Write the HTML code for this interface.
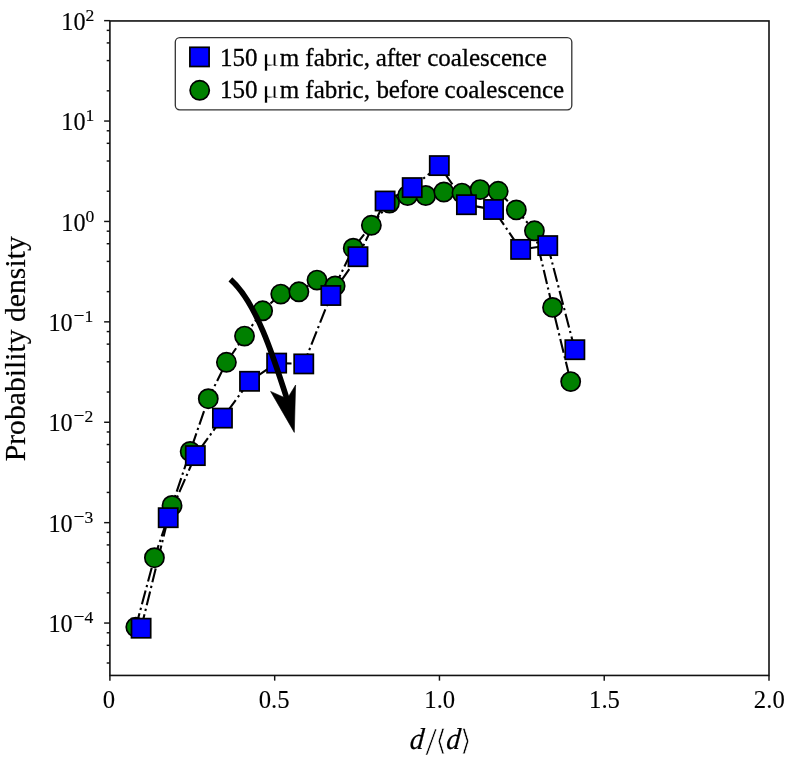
<!DOCTYPE html>
<html lang="en"><head><meta charset="utf-8"><title>Probability density vs d/&#x27E8;d&#x27E9;</title>
<style>
html,body{margin:0;padding:0;background:#fff;}
body{width:785px;height:757px;overflow:hidden;}
svg{display:block;}
text{font-family:"Liberation Serif", "DejaVu Serif", serif;fill:#000;stroke:#000;stroke-width:0.15px;}
.tk{font-size:24.7px;stroke-width:0.1px;}
.sup{font-size:17.6px;}
.lab{font-size:29.7px;stroke-width:0.2px;}
.ytk{font-size:24.2px;}
.leg{font-size:25.05px;stroke-width:0.3px;}
</style></head><body>
<svg width="785" height="757" viewBox="0 0 785 757">
<rect x="0" y="0" width="785" height="757" fill="#ffffff"/>
<g stroke="#111" stroke-width="1.45" fill="none">
<line x1="104.10" y1="623.05" x2="109.90" y2="623.05"/>
<line x1="104.10" y1="522.65" x2="109.90" y2="522.65"/>
<line x1="104.10" y1="422.25" x2="109.90" y2="422.25"/>
<line x1="104.10" y1="321.85" x2="109.90" y2="321.85"/>
<line x1="104.10" y1="221.45" x2="109.90" y2="221.45"/>
<line x1="104.10" y1="121.05" x2="109.90" y2="121.05"/>
<line x1="104.10" y1="20.65" x2="109.90" y2="20.65"/>
<line x1="106.70" y1="663.00" x2="109.90" y2="663.00"/>
<line x1="106.70" y1="645.32" x2="109.90" y2="645.32"/>
<line x1="106.70" y1="632.78" x2="109.90" y2="632.78"/>
<line x1="106.70" y1="592.83" x2="109.90" y2="592.83"/>
<line x1="106.70" y1="562.60" x2="109.90" y2="562.60"/>
<line x1="106.70" y1="544.92" x2="109.90" y2="544.92"/>
<line x1="106.70" y1="532.38" x2="109.90" y2="532.38"/>
<line x1="106.70" y1="492.43" x2="109.90" y2="492.43"/>
<line x1="106.70" y1="462.20" x2="109.90" y2="462.20"/>
<line x1="106.70" y1="444.52" x2="109.90" y2="444.52"/>
<line x1="106.70" y1="431.98" x2="109.90" y2="431.98"/>
<line x1="106.70" y1="392.03" x2="109.90" y2="392.03"/>
<line x1="106.70" y1="361.80" x2="109.90" y2="361.80"/>
<line x1="106.70" y1="344.12" x2="109.90" y2="344.12"/>
<line x1="106.70" y1="331.58" x2="109.90" y2="331.58"/>
<line x1="106.70" y1="291.63" x2="109.90" y2="291.63"/>
<line x1="106.70" y1="261.40" x2="109.90" y2="261.40"/>
<line x1="106.70" y1="243.72" x2="109.90" y2="243.72"/>
<line x1="106.70" y1="231.18" x2="109.90" y2="231.18"/>
<line x1="106.70" y1="191.23" x2="109.90" y2="191.23"/>
<line x1="106.70" y1="161.00" x2="109.90" y2="161.00"/>
<line x1="106.70" y1="143.32" x2="109.90" y2="143.32"/>
<line x1="106.70" y1="130.78" x2="109.90" y2="130.78"/>
<line x1="106.70" y1="90.83" x2="109.90" y2="90.83"/>
<line x1="106.70" y1="60.60" x2="109.90" y2="60.60"/>
<line x1="106.70" y1="42.92" x2="109.90" y2="42.92"/>
<line x1="106.70" y1="30.38" x2="109.90" y2="30.38"/>
<line x1="109.90" y1="675.45" x2="109.90" y2="680.65"/>
<line x1="274.68" y1="675.45" x2="274.68" y2="680.65"/>
<line x1="439.45" y1="675.45" x2="439.45" y2="680.65"/>
<line x1="604.23" y1="675.45" x2="604.23" y2="680.65"/>
<line x1="769.00" y1="675.45" x2="769.00" y2="680.65"/>
</g>
<rect x="109.90" y="20.95" width="659.10" height="654.50" fill="none" stroke="#111" stroke-width="1.6"/>
<text class="ytk" x="72.7" y="632.25" text-anchor="end">10</text>
<text class="sup" x="93.4" y="623.25" text-anchor="end"><tspan style="font-size:19.6px">−</tspan>4</text>
<text class="ytk" x="72.7" y="531.85" text-anchor="end">10</text>
<text class="sup" x="93.4" y="522.85" text-anchor="end"><tspan style="font-size:19.6px">−</tspan>3</text>
<text class="ytk" x="72.7" y="431.45" text-anchor="end">10</text>
<text class="sup" x="93.4" y="422.45" text-anchor="end"><tspan style="font-size:19.6px">−</tspan>2</text>
<text class="ytk" x="72.7" y="331.05" text-anchor="end">10</text>
<text class="sup" x="93.4" y="322.05" text-anchor="end"><tspan style="font-size:19.6px">−</tspan>1</text>
<text class="ytk" x="85.5" y="230.65" text-anchor="end">10</text>
<text class="sup" x="94.2" y="221.65" text-anchor="end">0</text>
<text class="ytk" x="85.5" y="130.25" text-anchor="end">10</text>
<text class="sup" x="94.2" y="121.25" text-anchor="end">1</text>
<text class="ytk" x="85.5" y="29.85" text-anchor="end">10</text>
<text class="sup" x="94.2" y="20.85" text-anchor="end">2</text>
<text class="tk" x="109.00" y="707.6" text-anchor="middle">0</text>
<text class="tk" x="274.07" y="707.6" text-anchor="middle">0.5</text>
<text class="tk" x="439.75" y="707.6" text-anchor="middle">1.0</text>
<text class="tk" x="604.52" y="707.6" text-anchor="middle">1.5</text>
<text class="tk" x="769.30" y="707.6" text-anchor="middle">2.0</text>
<text class="lab" transform="translate(25.1 348.8) rotate(-90)" text-anchor="middle">Probability density</text>
<g id="xlabel">
<text class="lab" transform="translate(409.3 748.6) skewX(-5) scale(0.95 1.02)" font-style="italic">d</text>
<text x="425.6" y="754.7" style="font-size:40.8px;stroke:#fff;stroke-width:0.5px">/</text>
<text x="435.4" y="749.7" style="font-family:'DejaVu Sans',sans-serif;font-size:28.6px;stroke:#fff;stroke-width:0.7px">⟨</text>
<text class="lab" transform="translate(445.8 748.6) skewX(-5) scale(0.95 1.02)" font-style="italic">d</text>
<text x="460.2" y="749.7" style="font-family:'DejaVu Sans',sans-serif;font-size:28.6px;stroke:#fff;stroke-width:0.7px">⟩</text>
</g>
<g id="lines" fill="none" stroke="#000" stroke-width="2.10" stroke-dasharray="14.25 3.56 2.23 3.56" stroke-linejoin="round">
<polyline points="135.80,627.10 154.42,557.70 172.04,505.50 190.16,451.50 208.28,398.70 226.40,362.30 244.52,336.10 262.64,310.80 280.76,294.10 298.88,291.80 317.00,280.10 335.12,285.90 353.24,248.20 371.36,225.30 389.48,203.00 407.60,195.50 425.72,195.50 443.84,192.00 461.96,193.10 480.08,189.60 498.20,191.30 516.32,209.90 534.44,230.80 552.56,307.40 570.68,381.60"/>
<polyline points="141.10,628.20 168.21,517.70 195.32,455.60 222.43,418.10 249.54,381.30 276.65,363.10 303.76,363.90 330.87,295.50 357.98,256.70 385.09,201.00 412.20,187.60 439.31,165.60 466.42,204.70 493.53,209.50 520.64,249.40 547.75,245.60 574.86,349.70"/>
</g>
<g id="before" fill="#008000" stroke="#000" stroke-width="1.70">
<circle cx="135.80" cy="627.10" r="9.60"/>
<circle cx="154.42" cy="557.70" r="9.60"/>
<circle cx="172.04" cy="505.50" r="9.60"/>
<circle cx="190.16" cy="451.50" r="9.60"/>
<circle cx="208.28" cy="398.70" r="9.60"/>
<circle cx="226.40" cy="362.30" r="9.60"/>
<circle cx="244.52" cy="336.10" r="9.60"/>
<circle cx="262.64" cy="310.80" r="9.60"/>
<circle cx="280.76" cy="294.10" r="9.60"/>
<circle cx="298.88" cy="291.80" r="9.60"/>
<circle cx="317.00" cy="280.10" r="9.60"/>
<circle cx="335.12" cy="285.90" r="9.60"/>
<circle cx="353.24" cy="248.20" r="9.60"/>
<circle cx="371.36" cy="225.30" r="9.60"/>
<circle cx="389.48" cy="203.00" r="9.60"/>
<circle cx="407.60" cy="195.50" r="9.60"/>
<circle cx="425.72" cy="195.50" r="9.60"/>
<circle cx="443.84" cy="192.00" r="9.60"/>
<circle cx="461.96" cy="193.10" r="9.60"/>
<circle cx="480.08" cy="189.60" r="9.60"/>
<circle cx="498.20" cy="191.30" r="9.60"/>
<circle cx="516.32" cy="209.90" r="9.60"/>
<circle cx="534.44" cy="230.80" r="9.60"/>
<circle cx="552.56" cy="307.40" r="9.60"/>
<circle cx="570.68" cy="381.60" r="9.60"/>
</g>
<g id="after" fill="#0000ff" stroke="#000" stroke-width="1.70">
<rect x="131.50" y="618.60" width="19.20" height="19.20"/>
<rect x="158.61" y="508.10" width="19.20" height="19.20"/>
<rect x="185.72" y="446.00" width="19.20" height="19.20"/>
<rect x="212.83" y="408.50" width="19.20" height="19.20"/>
<rect x="239.94" y="371.70" width="19.20" height="19.20"/>
<rect x="267.05" y="353.50" width="19.20" height="19.20"/>
<rect x="294.16" y="354.30" width="19.20" height="19.20"/>
<rect x="321.27" y="285.90" width="19.20" height="19.20"/>
<rect x="348.38" y="247.10" width="19.20" height="19.20"/>
<rect x="375.49" y="191.40" width="19.20" height="19.20"/>
<rect x="402.60" y="178.00" width="19.20" height="19.20"/>
<rect x="429.71" y="156.00" width="19.20" height="19.20"/>
<rect x="456.82" y="195.10" width="19.20" height="19.20"/>
<rect x="483.93" y="199.90" width="19.20" height="19.20"/>
<rect x="511.04" y="239.80" width="19.20" height="19.20"/>
<rect x="538.15" y="236.00" width="19.20" height="19.20"/>
<rect x="565.26" y="340.10" width="19.20" height="19.20"/>
</g>
<g id="arrow">
<path d="M230.4 279.4 C255.9 301.9 272.8 354.4 287.3 400" fill="none" stroke="#000" stroke-width="5.7"/>
<path d="M294.3 432.4 L270.6 391.4 L287.2 398.8 L295.6 385 Z" fill="#000" stroke="#000" stroke-width="0.6" stroke-linejoin="miter"/>
</g>
<g id="legend">
<rect x="175.3" y="37.6" width="396.5" height="72.2" rx="4.5" ry="4.5" fill="#fff" stroke="#333" stroke-width="1.3"/>
<rect x="189.90" y="47.30" width="19.20" height="19.20" fill="#0000ff" stroke="#000" stroke-width="1.70"/>
<circle cx="199.7" cy="90.3" r="9.60" fill="#008000" stroke="#000" stroke-width="1.70"/>
<text class="leg" y="66.00"><tspan x="220.00">150 </tspan></text>
<text class="leg" transform="translate(262.3 66.00) scale(1.24 1)" style="stroke:#fff;stroke-width:0.35px">μ</text>
<text class="leg" y="66.00"><tspan x="279.70">m </tspan><tspan x="305.30">fabric, </tspan><tspan x="375.80" style="letter-spacing:-0.28px">after </tspan><tspan x="427.20">coalescence</tspan></text>
<text class="leg" y="97.80"><tspan x="220.00">150 </tspan></text>
<text class="leg" transform="translate(262.3 97.80) scale(1.24 1)" style="stroke:#fff;stroke-width:0.35px">μ</text>
<text class="leg" y="97.80"><tspan x="279.70">m </tspan><tspan x="305.30">fabric, </tspan><tspan x="376.40" style="letter-spacing:-0.28px">before </tspan><tspan x="444.60">coalescence</tspan></text>
</g>
</svg></body></html>
